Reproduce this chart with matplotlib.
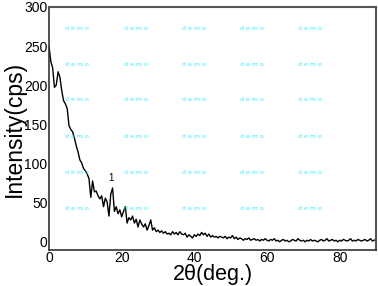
import matplotlib
matplotlib.use("Agg")
import matplotlib.pyplot as plt

two_theta = [
    0.0, 0.5, 1.0, 1.5, 2.0, 2.5, 3.0, 3.5, 4.0, 4.5,
    5.0, 5.5, 6.0, 6.5, 7.0, 7.5, 8.0, 8.5, 9.0, 9.5,
    10.0, 10.5, 11.0, 11.5, 12.0, 12.5, 13.0, 13.5, 14.0, 14.5,
    15.0, 15.5, 16.0, 16.5, 17.0, 17.5, 18.0, 18.5, 19.0, 19.5,
    20.0, 20.5, 21.0, 21.5, 22.0, 22.5, 23.0, 23.5, 24.0, 24.5,
    25.0, 25.5, 26.0, 26.5, 27.0, 27.5, 28.0, 28.5, 29.0, 29.5,
    30.0, 30.5, 31.0, 31.5, 32.0, 32.5, 33.0, 33.5, 34.0, 34.5,
    35.0, 35.5, 36.0, 36.5, 37.0, 37.5, 38.0, 38.5, 39.0, 39.5,
    40.0, 40.5, 41.0, 41.5, 42.0, 42.5, 43.0, 43.5, 44.0, 44.5,
    45.0, 45.5, 46.0, 46.5, 47.0, 47.5, 48.0, 48.5, 49.0, 49.5,
    50.0, 50.5, 51.0, 51.5, 52.0, 52.5, 53.0, 53.5, 54.0, 54.5,
    55.0, 55.5, 56.0, 56.5, 57.0, 57.5, 58.0, 58.5, 59.0, 59.5,
    60.0, 60.5, 61.0, 61.5, 62.0, 62.5, 63.0, 63.5, 64.0, 64.5,
    65.0, 65.5, 66.0, 66.5, 67.0, 67.5, 68.0, 68.5, 69.0, 69.5,
    70.0, 70.5, 71.0, 71.5, 72.0, 72.5, 73.0, 73.5, 74.0, 74.5,
    75.0, 75.5, 76.0, 76.5, 77.0, 77.5, 78.0, 78.5, 79.0, 79.5,
    80.0, 80.5, 81.0, 81.5, 82.0, 82.5, 83.0, 83.5, 84.0, 84.5,
    85.0, 85.5, 86.0, 86.5, 87.0, 87.5, 88.0, 88.5, 89.0, 89.5,
    90.0,
]
intensity = [
    250, 230, 222, 197, 200, 217, 210, 193, 180, 176,
    170, 148, 143, 140, 132, 122, 114, 104, 100, 93,
    90, 86, 80, 56, 77, 63, 64, 58, 54, 58,
    44, 55, 50, 32, 60, 68, 38, 44, 35, 40,
    31, 38, 44, 23, 30, 27, 32, 23, 28, 18,
    27, 22, 18, 22, 14, 20, 27, 14, 17, 12,
    14, 11, 13, 10, 12, 9, 10, 8, 12, 9,
    11, 8, 12, 9, 8, 10, 5, 8, 6, 4,
    8, 6, 9, 7, 11, 8, 10, 6, 9, 5,
    7, 5, 6, 4, 6, 5, 4, 6, 3, 5,
    4, 7, 3, 5, 2, 4, 3, 1, 3, 2,
    4, 1, 2, 3, 1, 2, 0, 2, 1, 3,
    1, 0, 2, 1, 3, 0, 1, -1, 1, 2,
    0, 1, -1, 0, 2, 1, 0, 3, 1, 0,
    1, -1, 1, 0, 2, 0, 1, 0, -1, 1,
    2, 0, 1, 3, 0, 1, 2, 0, 1, -1,
    1, 0, 2, 1, 0, 1, 3, 0, 1, 0,
    2, 1, 0, 1, 2, 0, 1, 3, 0, 1,
    2,
]
peak_label = "1"
peak_pos = (17.1, 81)
x_ticks = [0, 20, 40, 60, 80]
y_ticks = [0, 50, 100, 150, 200, 250, 300]

fig = plt.figure(figsize=(3.78, 2.86), dpi=100)
ax = fig.add_axes([49/378, 1-250/286, (376-49)/378, (250-7)/286])
ax.plot(two_theta, intensity, color="black", lw=1.0)
ax.set_xlim(0, 90)
ax.set_ylim(-11.5, 300)
ax.set_xticks(x_ticks)
ax.set_yticks(y_ticks)
ax.tick_params(length=0, pad=1, labelsize=10)
for lab in ax.get_xticklabels() + ax.get_yticklabels():
    lab.set_family("Liberation Sans")
for s in ["left", "bottom"]:
    ax.spines[s].set_color("#333333")
    ax.spines[s].set_linewidth(1.2)
for s in ["top", "right"]:
    ax.spines[s].set_color("#555555")
    ax.spines[s].set_linewidth(1.5)
ax.set_xlabel("2θ(deg.)", fontsize=15.5, family="Liberation Sans", va="center")
ax.xaxis.set_label_coords(0.5, (250 - 274.5) / 243)
ax.set_ylabel("Intensity(cps)", fontsize=16.5, family="Liberation Sans", va="center")
ax.yaxis.set_label_coords((14 - 49) / 327, 0.5)
ax.text(peak_pos[0], peak_pos[1], peak_label, fontsize=7, ha="center", va="center",
        family="Liberation Sans")

# watermark
for cx in [77, 135.5, 194, 252, 310]:
    for cy in [28, 64, 100, 136, 172, 208]:
        fig.text(cx/378, 1-cy/286, "d e m o", fontsize=4.5, color="#40e8f8",
                 ha="center", va="center", family="DejaVu Sans")

fig.savefig("out.png", dpi=100)
